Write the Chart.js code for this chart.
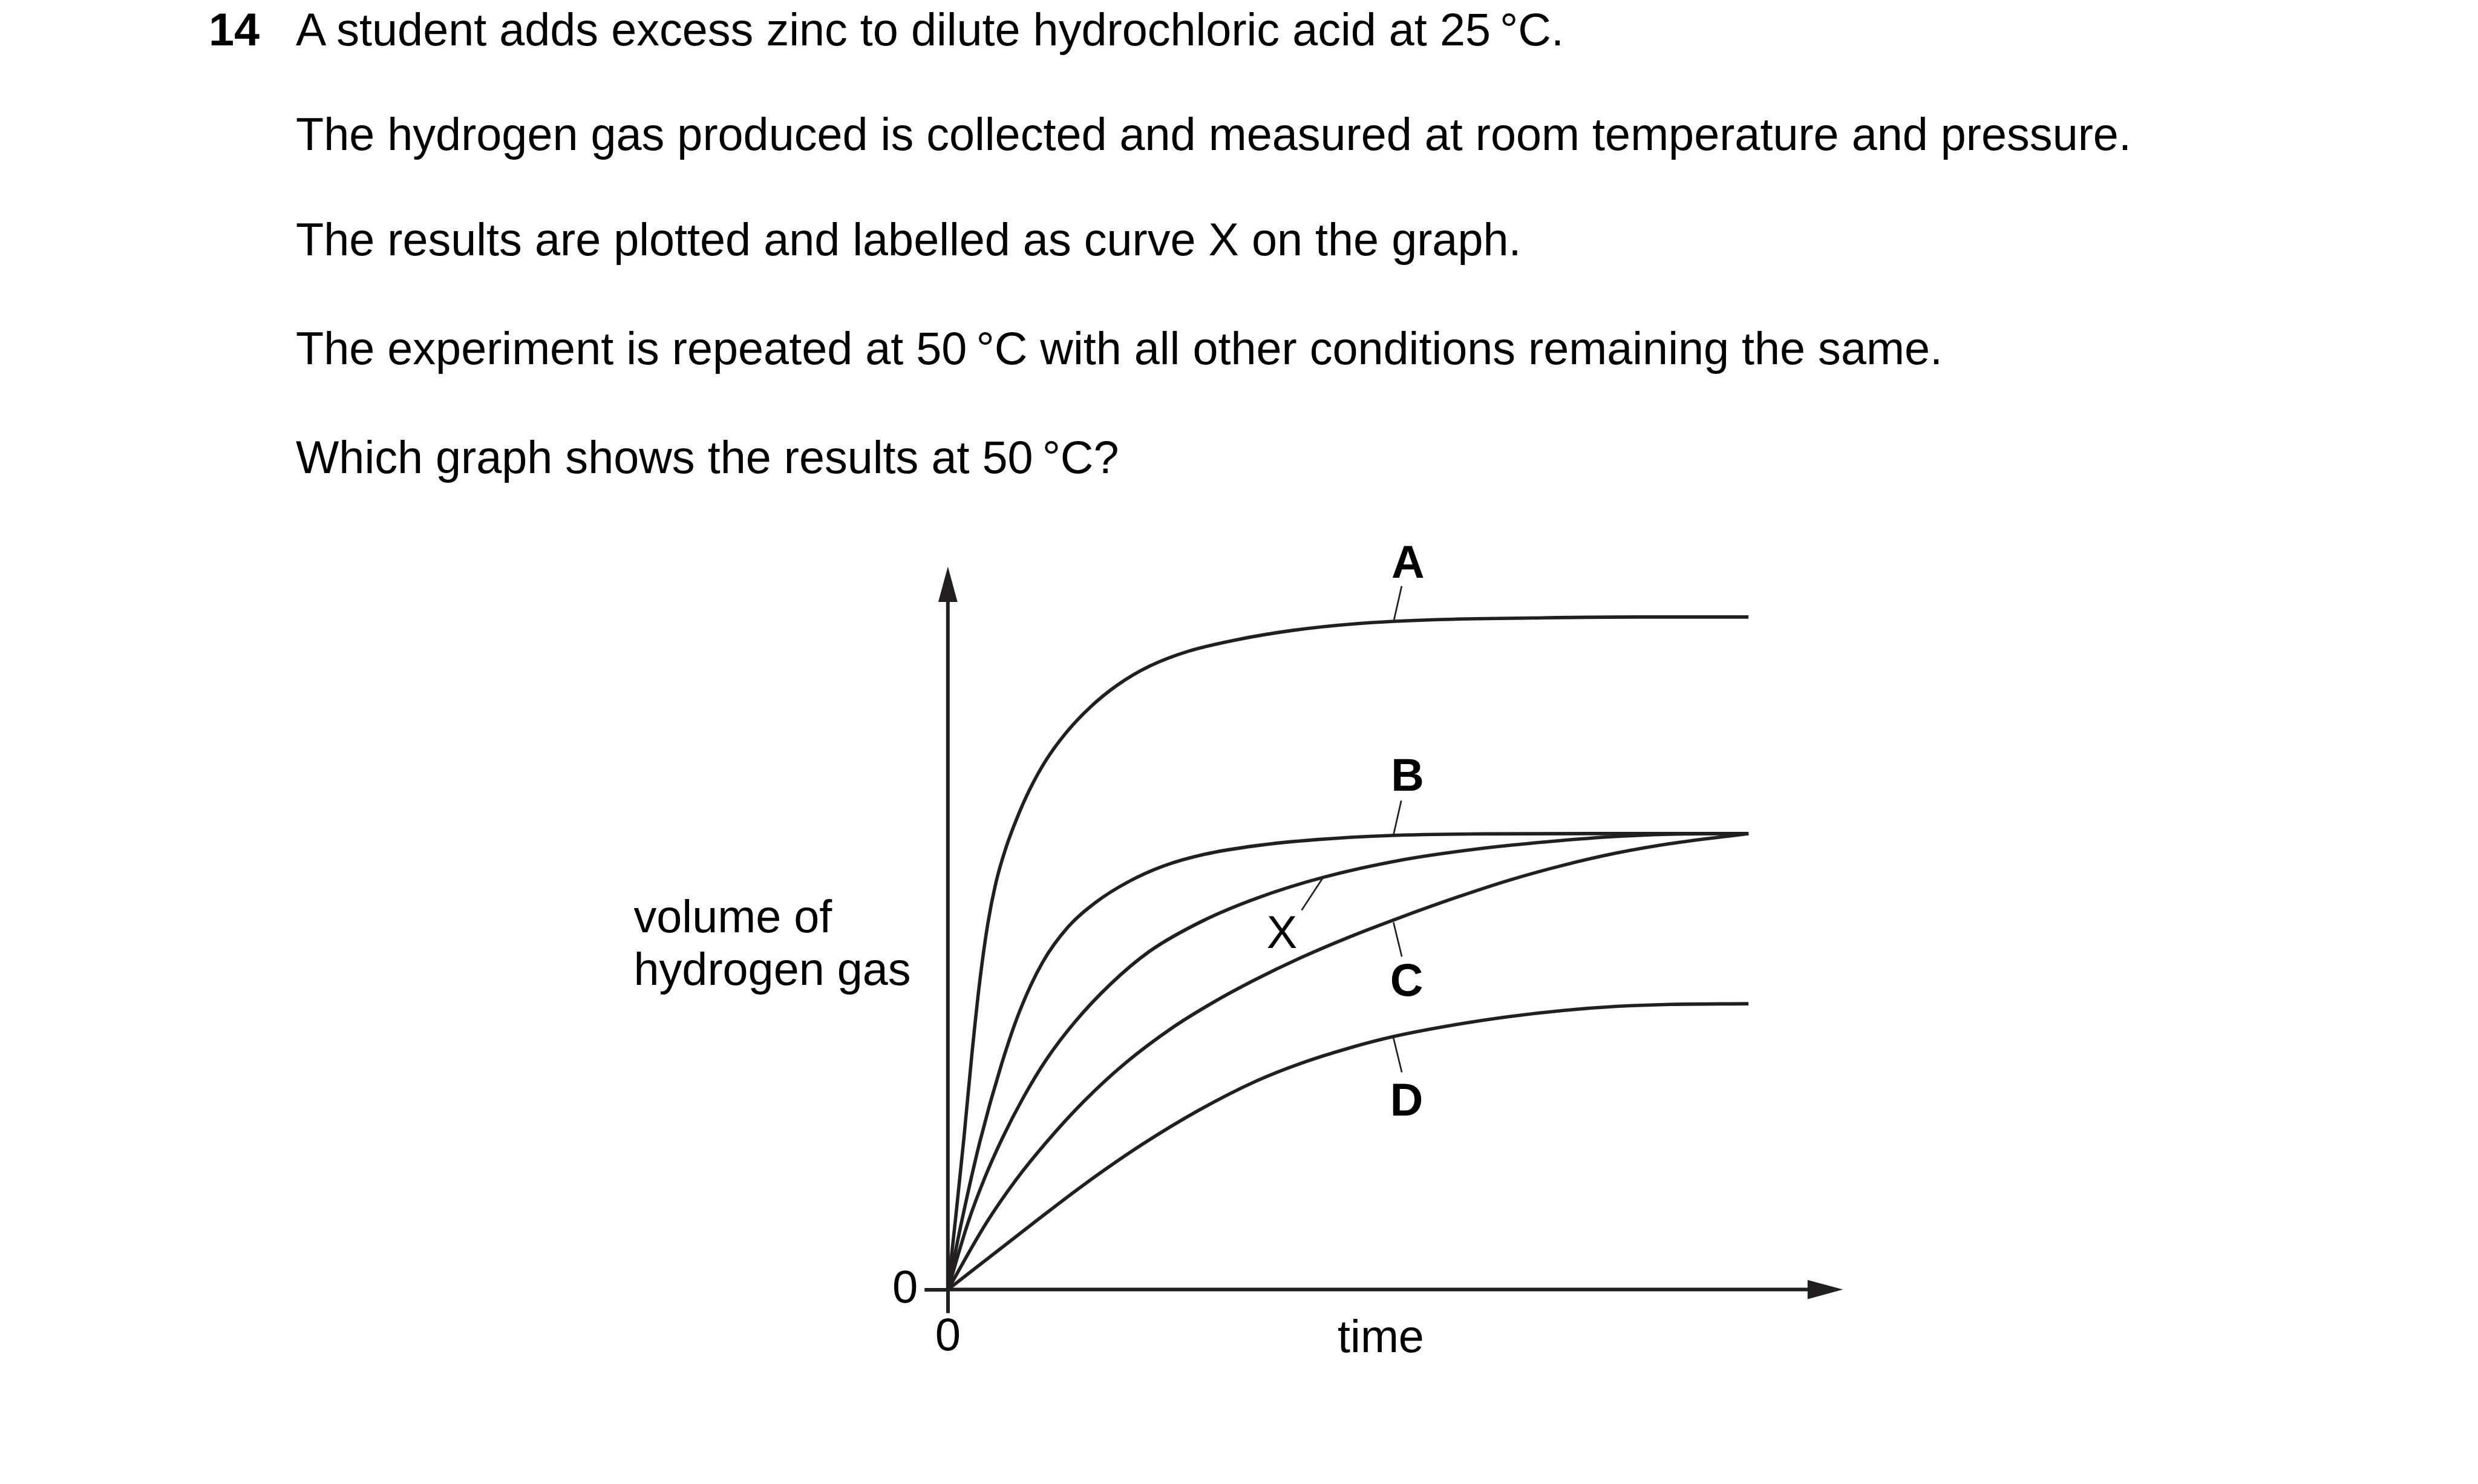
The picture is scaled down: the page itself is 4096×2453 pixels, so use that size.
<!DOCTYPE html>
<html>
<head>
<meta charset="utf-8">
<title>Question 14</title>
<script src="https://cdn.jsdelivr.net/npm/chart.js@4.4.1/dist/chart.umd.min.js"></script>
<style>
  html, body { margin: 0; padding: 0; background: #fff; }
  body {
    width: 4096px; height: 2453px; position: relative; overflow: hidden;
    font-family: 'Liberation Sans', Arial, sans-serif; color: #000;
  }
  #graph { position: absolute; left: 0; top: 0; }
  .t { position: absolute; font-size: 75.6px; line-height: 76px; white-space: nowrap; }
  .b { font-weight: bold; }
  .c { transform: translateX(-50%); }
</style>
</head>
<body>
<canvas id="graph" width="4096" height="2453"></canvas>
<script>
// Question text
const questionNumber = '14';
const questionLines = [
    'A student adds excess zinc to dilute hydrochloric acid at 25\u2009\u00b0C.',
    'The hydrogen gas produced is collected and measured at room temperature and pressure.',
    'The results are plotted and labelled as curve X on the graph.',
    'The experiment is repeated at 50\u2009\u00b0C with all other conditions remaining the same.',
    'Which graph shows the results at 50\u2009\u00b0C?'
];

// Axis texts
const xAxisTitle = 'time';
const yAxisTitle = ['volume of', 'hydrogen gas'];
const xTicks = [0];
const yTicks = [0];
const curveNames = ['A', 'B', 'C', 'D', 'X'];

// Curves (time 0-100, volume 0-100 where A levels off)
const timeA   = [0, 1, 2, 3, 4, 5, 6, 7.2, 8.6, 10.2, 12.2, 14.7, 17.7, 21.2, 25.2, 30, 36, 43, 51, 61, 73, 86, 100];
const volumeA = [0, 11, 22.5, 35, 46, 54.5, 60.5, 65.5, 70, 74.3, 78.6, 82.7, 86.5, 89.9, 92.7, 94.9, 96.6, 98.0, 99.0, 99.6, 99.85, 100, 100];

const timeB   = [0, 1.7, 4, 6.7, 9, 11.8, 15, 18.5, 22.5, 27, 32, 38.5, 46, 55, 67, 80, 100];
const volumeB = [0, 10, 22, 33.5, 41.5, 48.6, 53.9, 57.6, 60.6, 63.0, 64.7, 66.0, 66.9, 67.5, 67.75, 67.8, 67.8];

const timeX   = [0, 2.5, 4.6, 6.8, 9.4, 12.3, 15.8, 20.3, 25.2, 31.8, 38.6, 46.9, 56.8, 66, 75, 84, 92, 100];
const volumeX = [0, 9.9, 16.6, 22.5, 28.5, 34.2, 39.7, 45.4, 50.3, 54.8, 58.2, 61.3, 63.9, 65.5, 66.6, 67.4, 67.75, 67.8];

const timeC   = [0, 4.8, 8.5, 12.3, 17, 22.2, 28, 33, 38.1, 44, 50.1, 56, 63.5, 70.2, 76.9, 83.5, 90.2, 100];
const volumeC = [0, 9.9, 16.3, 21.9, 28.0, 33.7, 38.9, 42.6, 45.9, 49.3, 52.4, 55.1, 58.3, 60.9, 63.1, 64.9, 66.3, 67.8];

const timeD   = [0, 5.4, 10.8, 17, 24.3, 31.4, 38.5, 44, 50.1, 55.6, 63.5, 70.2, 76.9, 83.5, 90.2, 100];
const volumeD = [0, 5.0, 10.0, 15.6, 21.6, 26.7, 31.0, 33.6, 35.9, 37.6, 39.4, 40.6, 41.5, 42.1, 42.4, 42.5];

// Leader lines from each letter to its curve, in data units
const leaderLines = [
    [[56.68, 104.6], [55.72, 99.55]],
    [[56.63, 72.7], [55.66, 67.6]],
    [[46.89, 61.3], [44.19, 56.4]],
    [[55.66, 54.6], [56.70, 49.5]],
    [[55.66, 37.4], [56.70, 32.3]]
];

// Layout (px)
const INK = '#231f20';
const X_MAX = 111.8;      // tip of the time arrow
const Y_MAX = 107.5;      // tip of the volume arrow
const ARROW_LEN = 58.5;
const ARROW_HALF = 15.9;

function addText(text, left, top, cls) {
    const div = document.createElement('div');
    div.className = 't ' + (cls || '');
    div.style.left = left + 'px';
    div.style.top = top + 'px';
    div.textContent = text;
    document.body.appendChild(div);
}

// Question
const lineTops = [10.8, 184.4, 357.9, 537.9, 718.3];
addText(questionNumber, 345, lineTops[0], 'b');
questionLines.forEach(function(line, i) {
    addText(line, 489, lineTops[i]);
});

// Axis titles
addText(yAxisTitle[0], 1047.5, 1476.7);
addText(yAxisTitle[1], 1047.5, 1563.7);
addText(xAxisTitle, 2282.5, 2170.7, 'c');

// Curve letters
const letterPos = {
    A: [2327.3, 891.2], B: [2326.5, 1242.7], C: [2325, 1581.7],
    D: [2325, 1779.7], X: [2119, 1503.2]
};
curveNames.forEach(function(name) {
    addText(name, letterPos[name][0], letterPos[name][1], name === 'X' ? 'c' : 'b c');
});

function toPoints(xs, ys) {
    return xs.map(function(v, i) { return { x: v, y: ys[i] }; });
}

function curve(label, xs, ys) {
    return {
        label: label,
        data: toPoints(xs, ys),
        borderColor: INK,
        borderWidth: 5.6,
        pointRadius: 0,
        fill: false,
        clip: false,
        cubicInterpolationMode: 'monotone'
    };
}

// Axes with arrow heads, and letter leaders
const axisArrows = {
    id: 'axisArrows',
    beforeDatasetsDraw(chart) {
        const ctx = chart.ctx;
        const x = chart.scales.x, y = chart.scales.y;
        const x0 = x.getPixelForValue(0), y0 = y.getPixelForValue(0);
        const xTip = x.getPixelForValue(X_MAX), yTip = y.getPixelForValue(Y_MAX);
        ctx.save();
        ctx.strokeStyle = INK;
        ctx.fillStyle = INK;
        ctx.lineWidth = 6;
        ctx.beginPath();
        ctx.moveTo(x0, y0 + 3);
        ctx.lineTo(x0, yTip + ARROW_LEN - 2);
        ctx.moveTo(x0 - 3, y0);
        ctx.lineTo(xTip - ARROW_LEN + 2, y0);
        ctx.stroke();
        ctx.beginPath();
        ctx.moveTo(x0, yTip);
        ctx.lineTo(x0 - ARROW_HALF, yTip + ARROW_LEN);
        ctx.lineTo(x0 + ARROW_HALF, yTip + ARROW_LEN);
        ctx.closePath();
        ctx.fill();
        ctx.beginPath();
        ctx.moveTo(xTip, y0);
        ctx.lineTo(xTip - ARROW_LEN, y0 - ARROW_HALF);
        ctx.lineTo(xTip - ARROW_LEN, y0 + ARROW_HALF);
        ctx.closePath();
        ctx.fill();
        ctx.restore();
    },
    afterDatasetsDraw(chart) {
        const ctx = chart.ctx;
        const x = chart.scales.x, y = chart.scales.y;
        ctx.save();
        ctx.strokeStyle = INK;
        ctx.lineWidth = 2.7;
        leaderLines.forEach(function(seg) {
            ctx.beginPath();
            ctx.moveTo(x.getPixelForValue(seg[0][0]), y.getPixelForValue(seg[0][1]));
            ctx.lineTo(x.getPixelForValue(seg[1][0]), y.getPixelForValue(seg[1][1]));
            ctx.stroke();
        });
        ctx.restore();
    }
};

Chart.defaults.font.family = "'Liberation Sans', Arial, sans-serif";

new Chart(document.getElementById('graph'), {
    type: 'line',
    data: {
        datasets: [
            curve('A', timeA, volumeA),
            curve('B', timeB, volumeB),
            curve('X', timeX, volumeX),
            curve('C', timeC, volumeC),
            curve('D', timeD, volumeD)
        ]
    },
    options: {
        responsive: false,
        animation: false,
        devicePixelRatio: 1,
        events: [],
        layout: { padding: { left: 0, right: 1049.7, top: 936.5, bottom: 0 } },
        plugins: { legend: { display: false }, tooltip: { enabled: false } },
        scales: {
            x: {
                type: 'linear', min: 0, max: X_MAX,
                afterBuildTicks: function(s) { s.ticks = xTicks.map(function(v) { return { value: v }; }); },
                afterFit: function(s) { s.height = 321.4; },
                border: { display: false },
                grid: { drawOnChartArea: false, drawTicks: true, tickLength: 39, lineWidth: 6, color: INK },
                ticks: { color: '#000', padding: 2, autoSkip: false, maxRotation: 0, font: { size: 76, lineHeight: 1 } }
            },
            y: {
                type: 'linear', min: 0, max: Y_MAX,
                afterBuildTicks: function(s) { s.ticks = yTicks.map(function(v) { return { value: v }; }); },
                afterFit: function(s) { s.width = 1566.8; },
                border: { display: false },
                grid: { drawOnChartArea: false, drawTicks: true, tickLength: 38.6, lineWidth: 6, color: INK },
                ticks: { color: '#000', padding: 11, autoSkip: false, font: { size: 76, lineHeight: 1 } }
            }
        }
    },
    plugins: [axisArrows]
});
</script>
</body>
</html>
